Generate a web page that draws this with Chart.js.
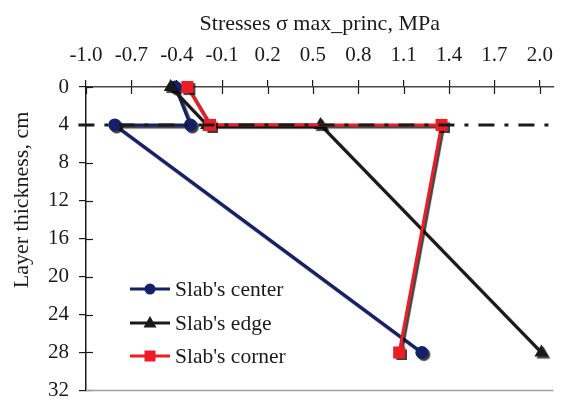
<!DOCTYPE html>
<html>
<head>
<meta charset="utf-8">
<script src="https://cdn.jsdelivr.net/npm/chart.js@4.4.1/dist/chart.umd.min.js"></script>
<style>
  html, body { margin: 0; padding: 0; background: #fff; }
  #wrap { width: 565px; height: 413px; position: relative; }
</style>
</head>
<body>
<div id="wrap"><canvas id="c" width="565" height="413"></canvas></div>
<script>
// Layer depth (cm) of each measurement point
const depths = [0, 4, 4, 28];
// Maximum principal stresses (MPa) at each depth
const centerStress = [-0.41, -0.31, -0.81, 1.22];
const edgeStress   = [-0.44, -0.20, 0.55, 2.01];
const cornerStress = [-0.33, -0.18, 1.35, 1.07];
// Interface between layers
const interfaceDepth = 4;
const interfaceSpan = [-1.05, 2.09];
// Stress axis tick labels
const stressTicks = ['-1.0', '-0.7', '-0.4', '-0.1', '0.2', '0.5', '0.8', '1.1', '1.4', '1.7', '2.0'];
const depthTicks = [0, 4, 8, 12, 16, 20, 24, 28, 32];

const FONT = "'Liberation Serif', 'Times New Roman', serif";
const INK = '#1a1a1a';
const NAVY = '#14206a';
const RED = '#ee1c24';

const pts = (xs, ys) => xs.map((x, i) => ({ x, y: ys[i] }));

const series = [
  { label: "Slab's center", data: pts(centerStress, depths), color: NAVY, style: 'circle', radius: 6.5, order: 3 },
  { label: "Slab's edge",   data: pts(edgeStress, depths),   color: INK,  style: 'triangle', radius: 8, order: 2 },
  { label: "Slab's corner", data: pts(cornerStress, depths), color: RED,  style: 'rect', radius: 8.5, order: 1 }
];

const datasets = series.map(s => ({
  label: s.label,
  data: s.data,
  borderColor: s.color,
  backgroundColor: s.color,
  borderWidth: 3,
  pointStyle: s.style,
  pointRadius: s.radius,
  pointBorderWidth: 0,
  pointBackgroundColor: s.color,
  pointBorderColor: s.color,
  tension: 0,
  clip: false,
  order: s.order,
  shadow: true
}));

datasets.push({
  label: 'interface',
  data: interfaceSpan.map(x => ({ x, y: interfaceDepth })),
  borderColor: INK,
  borderWidth: 3,
  borderDash: [16, 10, 4, 10],
  pointRadius: 0,
  clip: false,
  order: 0
});

// Drop shadow beneath the series lines and markers
const shadowPlugin = {
  id: 'shadow',
  beforeDatasetDraw(chart, args) {
    const ds = chart.data.datasets[args.index];
    chart.ctx.save();
    if (ds.shadow) {
      chart.ctx.shadowColor = 'rgba(0,0,0,0.75)';
      chart.ctx.shadowOffsetX = 2;
      chart.ctx.shadowOffsetY = 2;
      chart.ctx.shadowBlur = 1;
    }
  },
  afterDatasetDraw(chart) {
    chart.ctx.restore();
  }
};

// Tick marks that cross the axis lines, bottom frame line, vertical axis title, legend
const decorPlugin = {
  id: 'decor',
  beforeDatasetsDraw(chart) {
    const { ctx, chartArea: a, scales } = chart;
    ctx.save();
    ctx.strokeStyle = INK;
    ctx.lineWidth = 1.2;
    scales.x.ticks.forEach(t => {
      const px = Math.round(scales.x.getPixelForValue(t.value)) + 0.5;
      ctx.beginPath(); ctx.moveTo(px, a.top); ctx.lineTo(px, a.top + 7); ctx.stroke();
    });
    scales.y.ticks.forEach(t => {
      const py = Math.round(scales.y.getPixelForValue(t.value)) + 0.5;
      ctx.beginPath(); ctx.moveTo(a.left, py); ctx.lineTo(a.left + 7, py); ctx.stroke();
    });
    ctx.strokeStyle = '#a0a0a0';
    ctx.lineWidth = 1.5;
    ctx.beginPath(); ctx.moveTo(a.left, a.bottom); ctx.lineTo(a.right, a.bottom); ctx.stroke();
    ctx.restore();
  },
  afterDraw(chart) {
    const { ctx } = chart;
    ctx.save();
    ctx.fillStyle = INK;
    ctx.font = '22px ' + FONT;
    ctx.textAlign = 'center';
    ctx.textBaseline = 'middle';
    ctx.translate(22, 200);
    ctx.rotate(-Math.PI / 2);
    ctx.fillText('Layer thickness, cm', 0, 0);
    ctx.restore();

    // legend
    const x0 = 130, x1 = 170, tx = 175;
    const rows = [289, 323, 356];
    series.forEach((s, i) => {
      const y = rows[i];
      ctx.save();
      ctx.strokeStyle = s.color;
      ctx.fillStyle = s.color;
      ctx.lineWidth = 3;
      ctx.beginPath(); ctx.moveTo(x0, y); ctx.lineTo(x1, y); ctx.stroke();
      const cx = (x0 + x1) / 2;
      ctx.beginPath();
      if (s.style === 'circle') {
        ctx.arc(cx, y, 5.5, 0, Math.PI * 2);
      } else if (s.style === 'triangle') {
        ctx.moveTo(cx, y - 7); ctx.lineTo(cx + 6.5, y + 4.5); ctx.lineTo(cx - 6.5, y + 4.5); ctx.closePath();
      } else {
        ctx.rect(cx - 5.5, y - 5.5, 11, 11);
      }
      ctx.fill();
      ctx.fillStyle = INK;
      ctx.font = '21.5px ' + FONT;
      ctx.textAlign = 'left';
      ctx.textBaseline = 'middle';
      ctx.fillText(s.label, tx, y + 1);
      ctx.restore();
    });
  }
};

new Chart(document.getElementById('c'), {
  type: 'line',
  data: { datasets },
  options: {
    responsive: false,
    animation: false,
    events: [],
    layout: { autoPadding: false, padding: { left: 0, right: 0, top: 0, bottom: 11 } },
    plugins: { legend: { display: false }, tooltip: { enabled: false } },
    scales: {
      x: {
        type: 'linear',
        position: 'top',
        min: -1.0,
        max: interfaceSpan[1],
        afterBuildTicks(scale) {
          scale.ticks = stressTicks.map(v => ({ value: parseFloat(v), label: v }));
        },
        afterFit(scale) { scale.height = 87; },
        ticks: {
          color: INK,
          font: { family: FONT, size: 21 },
          padding: 12,
          maxRotation: 0,
          autoSkip: false,
          callback: (v, i) => stressTicks[i]
        },
        grid: { display: true, drawOnChartArea: false, drawTicks: true, tickLength: 7, color: INK, lineWidth: 1.2 },
        border: { display: true, color: '#444', width: 1.5 },
        title: {
          display: true,
          text: 'Stresses σ max_princ, MPa',
          color: INK,
          font: { family: FONT, size: 22 },
          padding: { top: 11, bottom: 0 }
        }
      },
      y: {
        type: 'linear',
        reverse: true,
        min: 0,
        max: 32,
        afterBuildTicks(scale) {
          scale.ticks = depthTicks.map(v => ({ value: v }));
        },
        afterFit(scale) { scale.width = 86; },
        ticks: {
          color: INK,
          font: { family: FONT, size: 21 },
          padding: 10,
          callback: v => String(v)
        },
        grid: { display: true, drawOnChartArea: false, drawTicks: true, tickLength: 7, color: INK, lineWidth: 1.2 },
        border: { display: true, color: INK, width: 1.5 }
      }
    }
  },
  plugins: [shadowPlugin, decorPlugin]
});
</script>
</body>
</html>
